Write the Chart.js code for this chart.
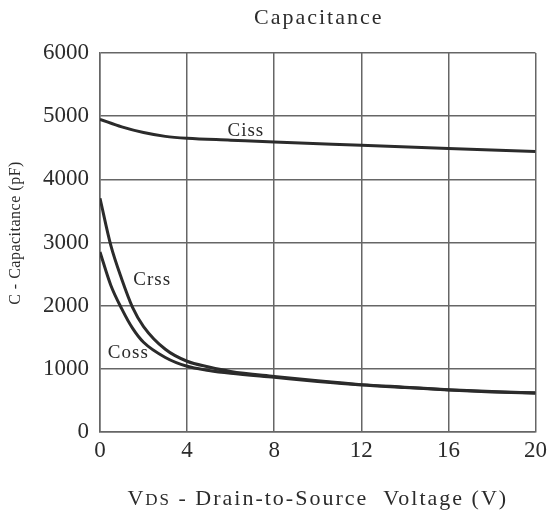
<!DOCTYPE html>
<html>
<head>
<meta charset="utf-8">
<script src="https://cdn.jsdelivr.net/npm/chart.js@4"></script>
<style>
  html, body { margin: 0; padding: 0; background: #fff; }
  #wrap { width: 552px; height: 515px; }
</style>
</head>
<body>
<div id="wrap"><canvas id="capChart" width="552" height="515"></canvas></div>
<script>
// VDS (V) samples for each curve
const vdsCiss = [0, 1, 2, 3, 4, 6, 8, 12, 16, 20];
const ciss = [4950, 4830, 4740, 4680, 4650, 4620, 4590, 4540, 4490, 4440];

const vdsLow = [0, 0.5, 1, 1.5, 2, 3, 4, 5, 6, 8, 10, 12, 14, 16, 18, 20];
const crss = [3700, 2950, 2420, 1970, 1670, 1310, 1120, 1030, 960, 880, 810, 750, 710, 670, 640, 620];
const coss = [2850, 2320, 1950, 1640, 1420, 1180, 1040, 975, 930, 865, 800, 745, 705, 665, 635, 615];

// curve name labels, placed in data units
const curveLabels = ['Ciss', 'Crss', 'Coss'];
const labelX = [6.7, 2.4, 1.3];
const labelY = [4770, 2400, 1250];

const chartTitle = 'Capacitance';
const yTitle = 'C - Capacitance (pF)';
// x title: "V" + small caps "DS" + rest
const xTitleParts = ['V', 'DS', ' - Drain-to-Source  Voltage (V)'];

const serif = '"Liberation Serif", "DejaVu Serif", serif';
const ink = '#2b2b2b';

function toPoints(xs, ys) {
    return xs.map((x, i) => ({ x: x, y: ys[i] }));
}

function spaced(ctx, size, spacing) {
    ctx.font = size + 'px ' + serif;
    ctx.letterSpacing = spacing + 'px';
}

// titles and curve names drawn by hand (letter spacing, small caps)
const textLayer = {
    id: 'textLayer',
    afterDraw(chart) {
        const ctx = chart.ctx;
        const area = chart.chartArea;
        const xs = chart.scales.x, ys = chart.scales.y;
        const midX = (area.left + area.right) / 2;
        ctx.save();
        ctx.fillStyle = ink;
        ctx.textBaseline = 'middle';

        // chart title
        spaced(ctx, 22, 2);
        ctx.textAlign = 'center';
        ctx.fillText(chartTitle, midX + 1, 18);

        // curve names
        spaced(ctx, 19, 1);
        curveLabels.forEach((name, i) => {
            ctx.fillText(name, xs.getPixelForValue(labelX[i]), ys.getPixelForValue(labelY[i]));
        });

        // x axis title with small caps DS
        const sizes = [22, 17, 22];
        let total = 0;
        const widths = xTitleParts.map((t, i) => {
            spaced(ctx, sizes[i], 2);
            const w = ctx.measureText(t).width;
            total += w;
            return w;
        });
        let x = midX - total / 2;
        ctx.textAlign = 'left';
        ctx.textBaseline = 'alphabetic';
        xTitleParts.forEach((t, i) => {
            spaced(ctx, sizes[i], 2);
            ctx.fillText(t, x, 505);
            x += widths[i];
        });

        // y axis title, rotated
        ctx.translate(16, 233);
        ctx.rotate(-Math.PI / 2);
        spaced(ctx, 16, 0.5);
        ctx.textAlign = 'center';
        ctx.textBaseline = 'middle';
        ctx.fillText(yTitle, 0, 0);
        ctx.restore();
    }
};

const lineStyle = {
    borderColor: ink,
    borderWidth: 3,
    pointRadius: 0,
    fill: false,
    cubicInterpolationMode: 'monotone'
};

new Chart(document.getElementById('capChart').getContext('2d'), {
    type: 'line',
    data: {
        datasets: [
            Object.assign({ label: 'Ciss', data: toPoints(vdsCiss, ciss) }, lineStyle),
            Object.assign({ label: 'Crss', data: toPoints(vdsLow, crss) }, lineStyle),
            Object.assign({ label: 'Coss', data: toPoints(vdsLow, coss) }, lineStyle)
        ]
    },
    options: {
        responsive: false,
        animation: false,
        layout: { padding: { left: 0, right: 13, top: 53, bottom: 0 } },
        plugins: {
            legend: { display: false },
            tooltip: { enabled: false },
            title: { display: false }
        },
        scales: {
            x: {
                type: 'linear',
                min: 0,
                max: 20,
                afterFit(scale) { scale.height = 83; },
                ticks: {
                    stepSize: 4,
                    color: ink,
                    padding: 5,
                    maxRotation: 0,
                    font: { family: serif, size: 23 }
                },
                grid: { color: '#666', lineWidth: 1.5, drawTicks: false },
                border: { color: '#666', width: 1.5 }
            },
            y: {
                min: 0,
                max: 6000,
                afterFit(scale) { scale.width = 100; },
                ticks: {
                    stepSize: 1000,
                    color: ink,
                    padding: 11,
                    font: { family: serif, size: 23 },
                    callback: v => String(v)
                },
                grid: { color: '#666', lineWidth: 1.5, drawTicks: false },
                border: { color: '#666', width: 1.5 }
            }
        }
    },
    plugins: [textLayer]
});
</script>
</body>
</html>
